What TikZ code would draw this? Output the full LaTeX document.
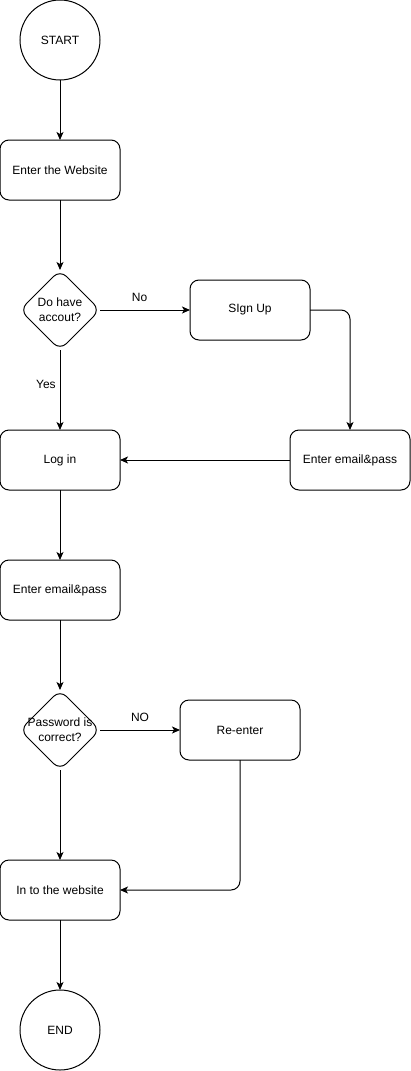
\documentclass[tikz,border=0pt]{standalone}
\usepackage{fontspec}
\setmainfont{Liberation Sans}
\usepackage{tikz}
\usetikzlibrary{positioning, shapes.geometric, arrows.meta}

\begin{document}
\begin{tikzpicture}[
          x=1pt, y=-1pt,
          every node/.style={font=\fontsize{12}{15}\selectfont, outer sep=0pt},
          box/.style={rectangle, draw, rounded corners=9pt, minimum width=120pt, minimum height=60pt, line width=1pt},
          terminal/.style={circle, draw, minimum size=80pt, line width=1pt},
          decision/.style={diamond, draw, minimum size=80pt, inner sep=0pt, rounded corners=9pt, line width=1pt},
          arrow/.style={-{Stealth[length=8pt, width=7pt, inset=2pt]}, line width=1pt}
        ]
          \useasboundingbox (0,0) rectangle (411,1071);

          \node[terminal] (start) at (60,40) {START};
          \node[box, below=60pt of start] (web) {Enter the Website};
          \node[decision, below=70pt of web, label={[align=center]center:Do have\\accout?}] (acct) {};
          \node[box, right=90pt of acct] (signup) {SIgn Up};
          \node[box, below=80pt of acct] (login) {Log in};
          \node[box, right=170pt of login] (email1) {Enter email\&pass};
          \node[box, below=70pt of login] (email2) {Enter email\&pass};
          \node[decision, below=70pt of email2, label={[align=center]center:Password is\\correct?}] (pass) {};
          \node[box, right=80pt of pass] (reenter) {Re-enter};
          \node[box, below=90pt of pass] (inweb) {In to the website};
          \node[terminal, below=70pt of inweb] (end) {END};

          \draw[arrow] (start) -- (web);
          \draw[arrow] (web) -- (acct);
          \draw[arrow] (acct) -- node[pos=0.44, above=5pt] {No} (signup);
          \draw[arrow] (acct) -- node[pos=0.43, left=1pt] {Yes} (login);
          \draw[arrow, rounded corners=9pt] (signup) -| (email1);
          \draw[arrow] (email1) -- (login);
          \draw[arrow] (login) -- (email2);
          \draw[arrow] (email2) -- (pass);
          \draw[arrow] (pass) -- node[pos=0.5, above=5pt] {NO} (reenter);
          \draw[arrow] (pass) -- (inweb);
          \draw[arrow, rounded corners=9pt] (reenter) |- (inweb);
          \draw[arrow] (inweb) -- (end);
        \end{tikzpicture}
\end{document}
